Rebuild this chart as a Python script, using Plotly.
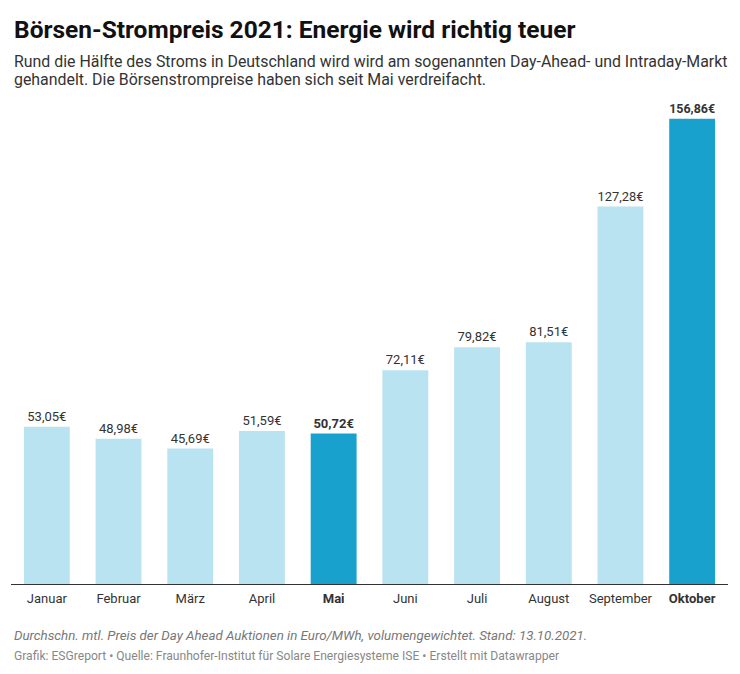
import plotly.graph_objects as go

months = ["Januar", "Februar", "März", "April", "Mai", "Juni", "Juli", "August", "September", "Oktober"]
prices = [53.05, 48.98, 45.69, 51.59, 50.72, 72.11, 79.82, 81.51, 127.28, 156.86]
highlight = ["Mai", "Oktober"]

LIGHT = "#b9e3f0"
DARK = "#18a1cd"

colors = [DARK if m in highlight else LIGHT for m in months]
labels = []
for m, v in zip(months, prices):
    s = f"{v:.2f}".replace(".", ",") + "€"
    labels.append(f"<b>{s}</b>" if m in highlight else s)
ticktext = [f"<b>{m}</b>" if m in highlight else m for m in months]

# page has 8px body margin
W, H = 732, 666
L, R, T, B = 3, 12, 92, 90
BASE = 584      # page y of baseline
PH = H - T - B

def py(pix):
    return (BASE - pix) / PH

def note(text, ypix, size, color):
    return dict(text=text, x=0, xref="paper", xanchor="left", xshift=1, align="left",
                y=py(ypix), yref="paper", yanchor="middle", showarrow=False,
                font=dict(family="Roboto", size=size, color=color))

fig = go.Figure(go.Bar(
    x=months, y=prices, marker=dict(color=colors, line=dict(width=0)),
    text=labels, textposition="outside", cliponaxis=False,
    textfont=dict(family="Roboto", size=13, color="#333333"),
    hoverinfo="skip",
))

fig.update_layout(
    width=W, height=H,
    margin=dict(l=L, r=R, t=T, b=B),
    paper_bgcolor="white", plot_bgcolor="white",
    bargap=0.36, showlegend=False,
    font=dict(family="Roboto", color="#333333"),
    xaxis=dict(tickmode="array", tickvals=months, ticktext=ticktext,
               showline=True, linecolor="#333333", linewidth=1,
               ticks="", ticklabelstandoff=2,
               tickfont=dict(family="Roboto", size=13, color="#333333"),
               showgrid=False, fixedrange=True),
    yaxis=dict(range=[0, 163.2], visible=False, showgrid=False, fixedrange=True),
    annotations=[
        note("<b>Börsen-Strompreis 2021: Energie wird richtig teuer</b>", 29, 24.5, "#111111"),
        note("Rund die Hälfte des Stroms in Deutschland wird wird am sogenannten Day-Ahead- und Intraday-Markt", 62, 15.9, "#333333"),
        note("gehandelt. Die Börsenstrompreise haben sich seit Mai verdreifacht.", 80, 15.9, "#333333"),
        note("<i>Durchschn. mtl. Preis der Day Ahead Auktionen in Euro/MWh, volumengewichtet. Stand: 13.10.2021.</i>", 635, 13.3, "#777777"),
        note("Grafik: ESGreport • Quelle: Fraunhofer-Institut für Solare Energiesysteme ISE • Erstellt mit Datawrapper", 655.5, 12.1, "#888888"),
    ],
)

fig.write_html("out.html")
